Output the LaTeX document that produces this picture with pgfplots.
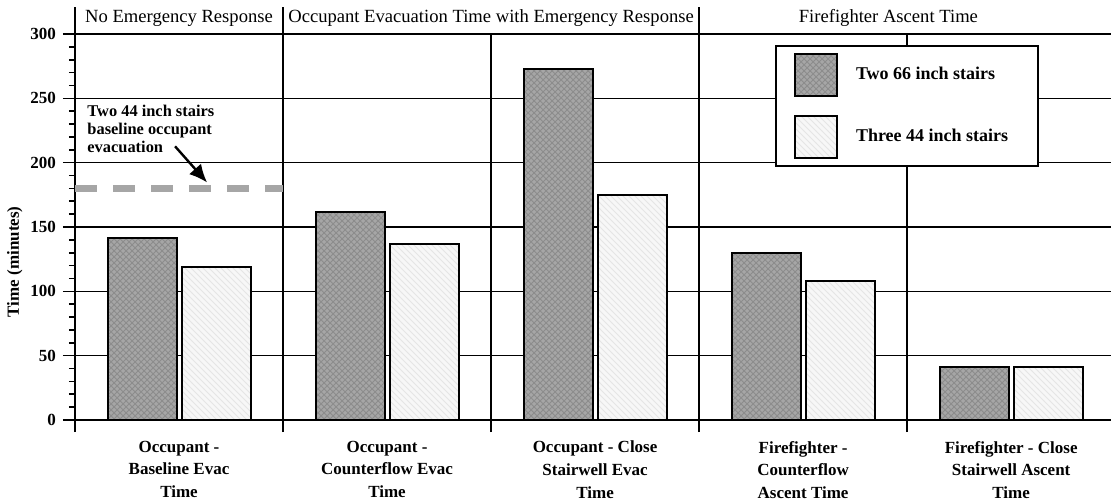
\documentclass[border=0pt]{standalone}
\usepackage{fontspec}
\setmainfont{Liberation Serif}
\usepackage{pgfplots}
\pgfplotsset{compat=1.18}
\usetikzlibrary{patterns,arrows.meta}
\pgfplotsset{
  sqlegend/.style={legend image code/.code={\draw[##1, line width=1pt] (0pt,-10.5pt) rectangle (21pt,10.5pt); \path[draw=none,fill=none] (0pt,0pt) (28pt,0pt);}},
}
\begin{document}
\begin{tikzpicture}
\begin{axis}[
  name=ax,
  width=518pt, height=193pt, scale only axis,
  xmin=-0.5, xmax=4.48, ymin=0, ymax=300,
  axis lines*=left,
  axis line style={line width=1pt},
  clip=false,
  xtick={-0.5,0.5,1.5,2.5,3.5},
  xticklabels={},
  xmajorgrids=true,
  extra x ticks={0,1,2,3,4},
  extra x tick labels={{Occupant -\\Baseline Evac\\Time},{Occupant -\\Counterflow Evac\\Time},{Occupant - Close\\Stairwell Evac\\Time},{Firefighter -\\Counterflow\\Ascent Time},{Firefighter - Close\\Stairwell Ascent\\Time}},
  extra x tick style={grid=none, major tick length=0pt},
  xticklabel style={align=center, font=\bfseries\fontsize{8.5}{11.3}\selectfont, yshift=-7pt},
  ytick={0,50,...,300},
  minor y tick num=4,
  ymajorgrids=true,
  grid style={black, line width=0.7pt},
  tick align=outside,
  major tick length=6pt,
  minor tick length=3pt,
  tick style={black, line width=0.8pt},
  yticklabel style={font=\bfseries\fontsize{8.5}{10}\selectfont},
  /pgf/number format/assume math mode=true,
  ylabel={Time (minutes)},
  ylabel style={at={(axis description cs:-0.058,0.41)}, anchor=center, font=\bfseries\fontsize{8.5}{10}\selectfont},
  legend style={at={(axis cs:2.865,291.4)}, anchor=north west, draw=black, line width=1pt, fill=white,
    font=\bfseries\fontsize{9}{11}\selectfont, row sep=9pt, inner xsep=9pt, inner ysep=3.5pt},
  legend cell align=left,
]
\addplot[ybar, bar width=34.5pt, bar shift=-18.5pt, fill=gray!70, draw=black, line width=1pt,
  postaction={pattern=crosshatch, pattern color=black!45}, sqlegend]
  coordinates {(0,141.5) (1,161.5) (2,273) (3,129.5) (4,41.5)};
\addplot[ybar, bar width=34.5pt, bar shift=18.5pt, fill=black!3, draw=black, line width=1pt,
  postaction={pattern=north west lines, pattern color=black!10}, sqlegend]
  coordinates {(0,119) (1,136.5) (2,174.5) (3,108) (4,41)};
\legend{\makebox[80pt][l]{Two 66 inch stairs}, \makebox[80pt][l]{Three 44 inch stairs}}
\addplot[sharp plot, forget plot, draw=gray!70, line width=3.2pt, dash pattern=on 11pt off 8pt]
  coordinates {(-0.5,180) (0.5,180)};

\draw[line width=1.4pt] (axis cs:-0.5,300) -- (axis cs:4.48,300);
\draw[line width=0.8pt] (axis cs:-0.5,300) -- ++(0pt,13.5pt);
\draw[line width=0.8pt] (axis cs:0.5,300) -- ++(0pt,13.5pt);
\draw[line width=0.8pt] (axis cs:2.5,300) -- ++(0pt,13.5pt);
\node[anchor=base, font=\fontsize{9.3}{11}\selectfont, inner sep=0pt] at ([yshift=5.5pt]axis cs:0,300) {No Emergency Response};
\node[anchor=base, font=\fontsize{9.3}{11}\selectfont, inner sep=0pt] at ([yshift=5.5pt]axis cs:1.5,300) {Occupant Evacuation Time with Emergency Response};
\node[anchor=base, font=\fontsize{9.3}{11}\selectfont, inner sep=0pt] at ([yshift=5.5pt]axis cs:3.41,300) {Firefighter Ascent Time};

\node[anchor=west, align=left, font=\bfseries\fontsize{8.2}{9}\selectfont, inner sep=0pt] at (axis cs:-0.442,226) {Two 44 inch stairs\\baseline occupant\\evacuation};
\draw[-{Latex[length=9pt,width=8pt]}, line width=1.2pt] (axis cs:-0.019,212.7) -- (axis cs:0.135,184.6);
\end{axis}
\pgfresetboundingbox
\path[use as bounding box] ([xshift=-37.5pt,yshift=-41.5pt]ax.south west) rectangle ([yshift=17pt]ax.north east);
\end{tikzpicture}
\end{document}
